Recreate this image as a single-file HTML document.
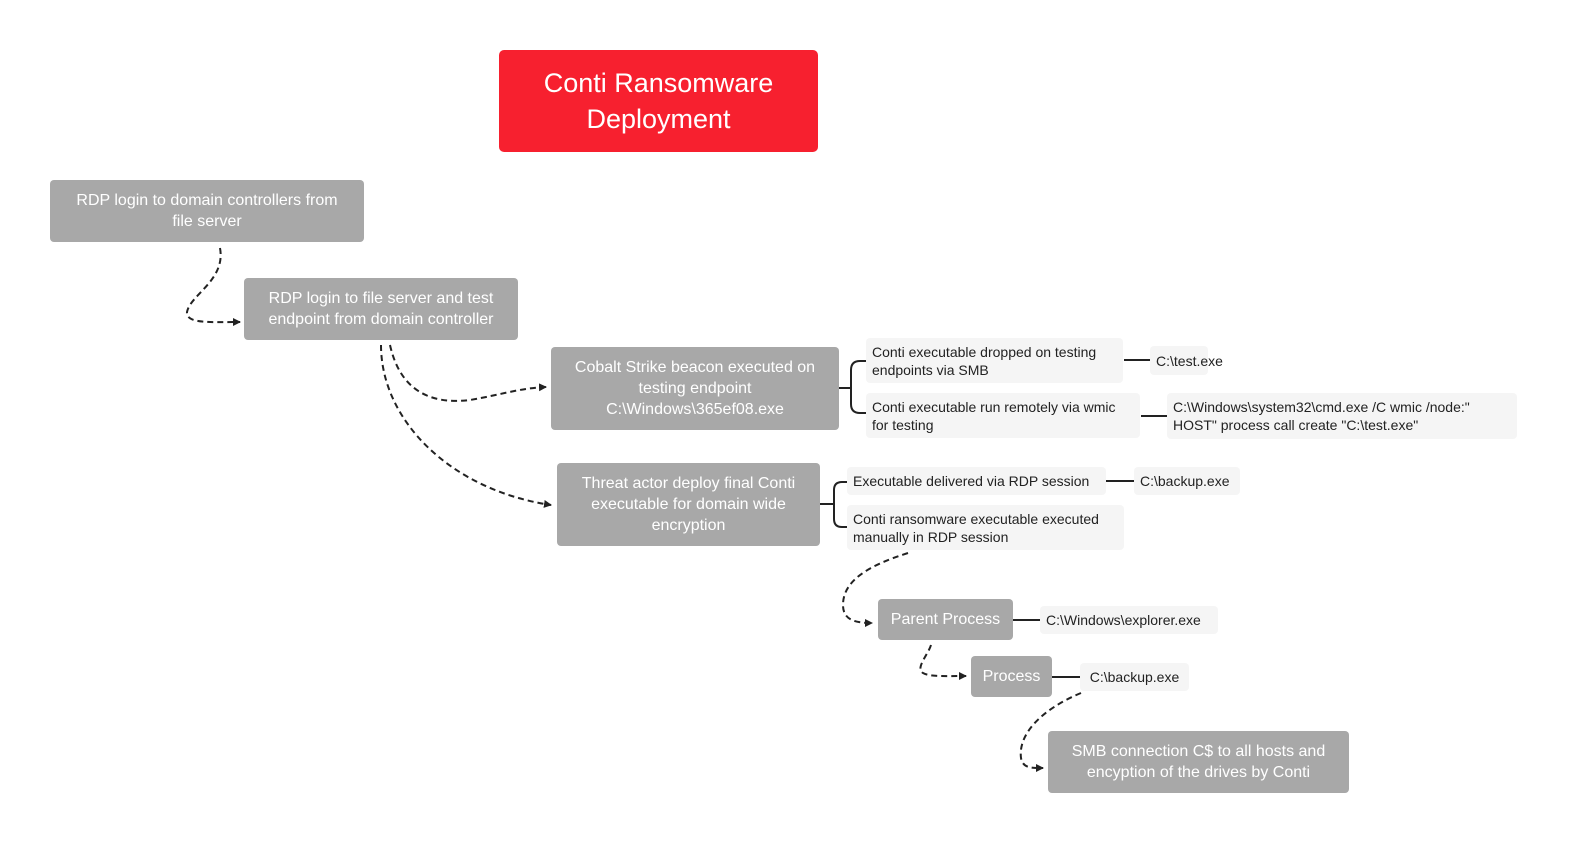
<!DOCTYPE html><html><head><style>
body{margin:0;width:1583px;height:851px;background:#fff;position:relative;font-family:"Liberation Sans","DejaVu Sans",sans-serif;overflow:hidden}
.b{position:absolute;background:#a8a8a8;color:#fff;border-radius:4px;display:flex;align-items:center;justify-content:center;text-align:center;font-size:16px;line-height:21px}
.l{position:absolute;background:#f5f5f5;color:#222;border-radius:4px;font-size:14px;line-height:18px;padding:4px 6px;box-sizing:border-box;display:flex;align-items:center}
svg{position:absolute;left:0;top:0}
</style></head><body>
<div class="b" style="left:499px;top:50px;width:319px;height:102px;background:#f7202f;font-size:27px;line-height:36px;border-radius:5px">Conti Ransomware<br>Deployment</div>
<div class="b" style="left:50px;top:180px;width:314px;height:62px">RDP login to domain controllers from<br>file server</div>
<div class="b" style="left:244px;top:278px;width:274px;height:62px">RDP login to file server and test<br>endpoint from domain controller</div>
<div class="b" style="left:551px;top:347px;width:288px;height:83px">Cobalt Strike beacon executed on<br>testing endpoint<br>C:\Windows\365ef08.exe</div>
<div class="b" style="left:557px;top:463px;width:263px;height:83px">Threat actor deploy final Conti<br>executable for domain wide<br>encryption</div>
<div class="l" style="left:866px;top:338px;width:257px;height:45px">Conti executable dropped on testing<br>endpoints via SMB</div>
<div class="l" style="left:1150px;top:346px;width:58px;height:29px">C:\test.exe</div>
<div class="l" style="left:866px;top:393px;width:274px;height:45px">Conti executable run remotely via wmic<br>for testing</div>
<div class="l" style="left:1167px;top:393px;width:350px;height:46px">C:\Windows\system32\cmd.exe /C wmic /node:"<br>HOST" process call create "C:\test.exe"</div>
<div class="l" style="left:847px;top:467px;width:259px;height:28px">Executable delivered via RDP session</div>
<div class="l" style="left:1134px;top:467px;width:106px;height:28px">C:\backup.exe</div>
<div class="l" style="left:847px;top:505px;width:277px;height:45px">Conti ransomware executable executed<br>manually in RDP session</div>
<div class="b" style="left:878px;top:599px;width:135px;height:41px">Parent Process</div>
<div class="l" style="left:1040px;top:606px;width:178px;height:28px">C:\Windows\explorer.exe</div>
<div class="b" style="left:971px;top:656px;width:81px;height:41px">Process</div>
<div class="l" style="left:1080px;top:663px;width:109px;height:28px;justify-content:center">C:\backup.exe</div>
<div class="b" style="left:1048px;top:731px;width:301px;height:62px">SMB connection C$ to all hosts and<br>encyption of the drives by Conti</div>
<svg width="1583" height="851"><defs><marker id="a" markerUnits="userSpaceOnUse" markerWidth="8" markerHeight="8" refX="7" refY="4" orient="auto"><path d="M0,0L8,4L0,8z" fill="#222"/></marker></defs>
<g fill="none" stroke="#222" stroke-width="2" stroke-dasharray="6,4">
<path d="M220,248C226,280 190,295 187,312C186,324 210,322 240,322" marker-end="url(#a)"/>
<path d="M390,345C400,390 430,405 470,400C500,395 520,388 546,387" marker-end="url(#a)"/>
<path d="M381,345C381,420 450,490 551,505" marker-end="url(#a)"/>
<path d="M908,553C870,565 843,580 843,605C843,620 855,623 872,623" marker-end="url(#a)"/>
<path d="M931,645C928,655 915,668 923,673C930,677 945,676 966,676" marker-end="url(#a)"/>
<path d="M1081,693C1040,710 1018,735 1021,758C1023,768 1030,768 1043,768" marker-end="url(#a)"/>
</g>
<g fill="none" stroke="#222" stroke-width="2">
<path d="M839,388H851M866,361H860Q851,361 851,370V404Q851,413 860,413H866"/>
<path d="M820,504H834M847,482H842Q834,482 834,490V519Q834,527 842,527H847"/>
<path d="M1124,360H1150M1141,416H1167M1106,481H1134M1013,620H1040M1052,677H1080"/>
</g></svg>
</body></html>
